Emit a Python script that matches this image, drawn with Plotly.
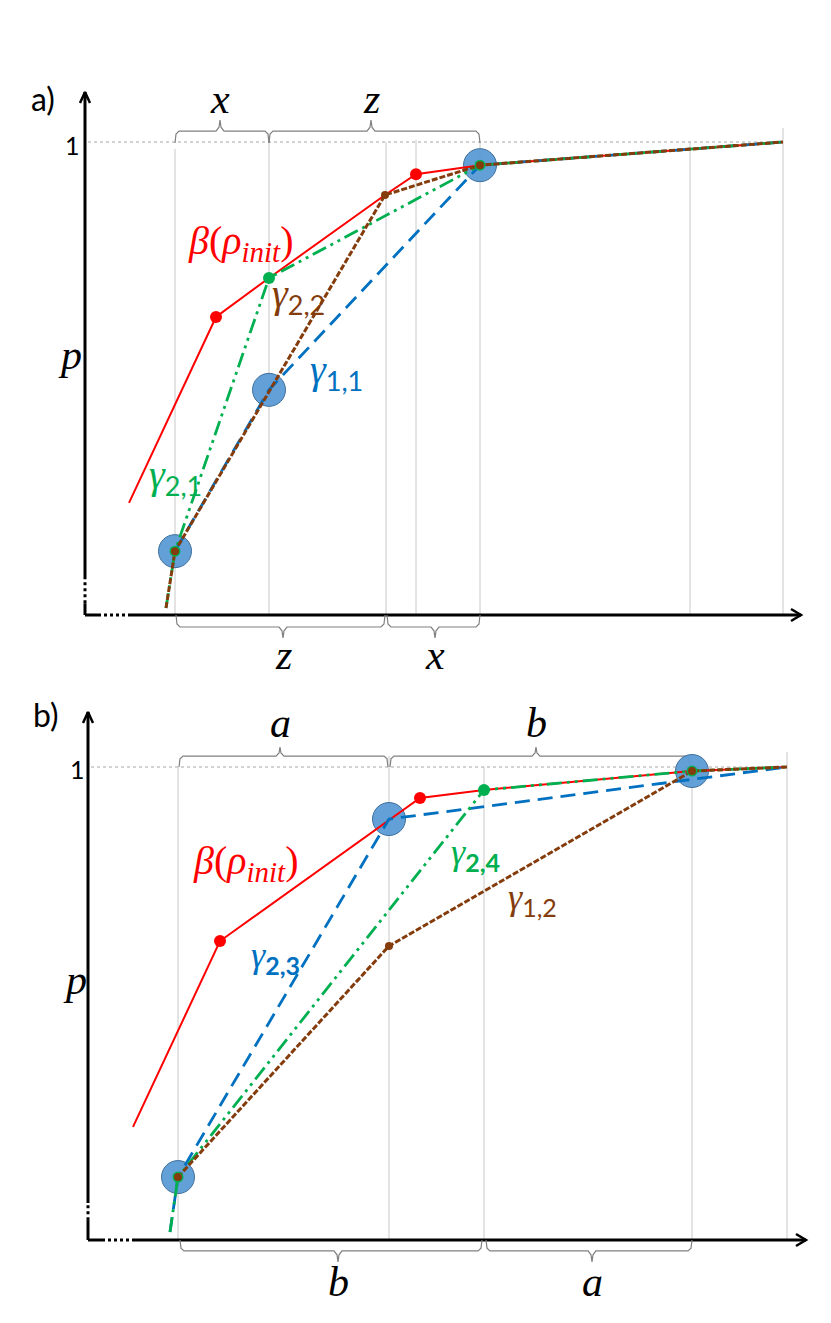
import plotly.graph_objects as go

# ---------------- common ----------------
K = 473.0  # pixels per unit of p (same in both panels)
RED, BLUE, GREEN, BROWN = "#ff0000", "#0070c0", "#00b050", "#843c0c"
CIRC_FILL, CIRC_LINE = "rgba(91,155,213,0.95)", "#41719c"
GRID = "#c8c8c8"

# ---------------- panel a data ----------------
a_grid_x = [175, 269, 386, 416, 480, 690, 783]
a_grid_top = [0.985, 1.005, 1.0, 1.005, 1.0, 1.0, 1.03]

a_beta_x = [129, 216, 269, 385, 416, 480, 783]
a_beta_p = [0.237, 0.630, 0.7125, 0.888, 0.932, 0.951, 1.0]

a_g11_x = [175, 269, 480, 783]
a_g11_p = [0.135, 0.476, 0.951, 1.0]

a_g21_x = [166, 175, 269, 480, 783]
a_g21_p = [0.015, 0.135, 0.7125, 0.951, 1.0]

a_g22_x = [166, 175, 385, 480, 783]
a_g22_p = [0.015, 0.135, 0.888, 0.951, 1.0]

a_big_x, a_big_p = [175, 269, 480], [0.135, 0.476, 0.951]
a_red_x, a_red_p = [216, 416], [0.630, 0.932]
a_green_x, a_green_p = [269], [0.7125]
a_ring_x, a_ring_p = [175, 480], [0.135, 0.951]
a_brown_x, a_brown_p = [175, 385, 480], [0.135, 0.888, 0.951]

a_top_braces = [(175, 269, 220, "x"), (269, 480, 371, "z")]
a_bot_braces = [(176, 385, 283, "z"), (387, 480, 435, "x")]

# ---------------- panel b data ----------------
b_grid_x = [178, 389, 484, 692, 787]
b_grid_top = [1.0, 1.023, 1.0, 1.023, 1.032]

b_beta_x = [133, 220, 420, 484, 692, 787]
b_beta_p = [0.239, 0.632, 0.9345, 0.9514, 0.9915, 1.0]

b_g23_x = [170, 178, 389, 787]
b_g23_p = [0.017, 0.133, 0.890, 1.0]

b_g24_x = [170, 178, 484, 692, 787]
b_g24_p = [0.017, 0.133, 0.9514, 0.9915, 1.0]

b_g12_x = [178, 389, 692, 787]
b_g12_p = [0.133, 0.6216, 0.9915, 1.0]

b_big_x, b_big_p = [178, 389, 692], [0.133, 0.890, 0.9915]
b_red_x, b_red_p = [220, 420], [0.632, 0.9345]
b_green_x, b_green_p = [484], [0.9514]
b_ring_x, b_ring_p = [178, 692], [0.133, 0.9915]
b_brown_x, b_brown_p = [178, 389, 692], [0.133, 0.6216, 0.9915]

b_top_braces = [(179, 388, 280, "a"), (390, 690, 536, "b")]
b_bot_braces = [(180, 482, 338, "b"), (486, 692, 592, "a")]

fig = go.Figure()

SERIF = "Liberation Serif"
SANS = "Lato"


def add_line(xs, ps, color, width, dash, ax):
    fig.add_trace(go.Scatter(x=xs, y=ps, mode="lines", xaxis=ax[0], yaxis=ax[1],
                             line=dict(color=color, width=width, dash=dash),
                             hoverinfo="skip", showlegend=False))


def add_markers(xs, ps, size, color, lcolor, lwidth, ax):
    fig.add_trace(go.Scatter(x=xs, y=ps, mode="markers", xaxis=ax[0], yaxis=ax[1],
                             marker=dict(size=size, color=color,
                                         line=dict(color=lcolor, width=lwidth)),
                             hoverinfo="skip", showlegend=False))


def add_text(x, p, text, size, color, ax, family=SERIF):
    fig.add_annotation(x=x, y=p, xref=ax[0], yref=ax[1], text=text, showarrow=False,
                       font=dict(family=family, size=size, color=color),
                       xanchor="center", yanchor="middle")


def gamma(sub, bold=False, subsize=27):
    s = "<span style='font-family:Lato;font-size:%dpx'>%s</span>" % (subsize, sub)
    if bold:
        s = "<b>" + s + "</b>"
    return "<i>γ</i><sub>" + s + "</sub>"


BETA = ("<i>β</i>(<i>ρ</i><sub><span style='font-size:29px'><i>init</i></span></sub>)")


def brace(x0, x1, xm, p_end, p_line, p_tip, ax):
    d = p_line - p_end
    t = p_tip - p_line
    xs = [x0, x0 + 1, x0 + 4, xm - 4, xm - 1, xm, xm + 1, xm + 4, x1 - 4, x1 - 1, x1]
    ps = [p_end, p_end + 0.75 * d, p_line, p_line, p_line + 0.35 * t, p_line + t,
          p_line + 0.35 * t, p_line, p_line, p_end + 0.75 * d, p_end]
    add_line(xs, ps, "#808080", 1.2, "solid", ax)


def axes(x0, x_end, p_top, dot_x, dot_p, ax):
    # y axis
    add_line([x0, x0], [0, dot_p[0]], "black", 3, "solid", ax)
    add_line([x0, x0], [dot_p[0], dot_p[1]], "black", 3, "3px,3px", ax)
    add_line([x0, x0], [dot_p[1], p_top], "black", 3, "solid", ax)
    # x axis
    add_line([x0, dot_x[0]], [0, 0], "black", 3, "solid", ax)
    add_line([dot_x[0], dot_x[1]], [0, 0], "black", 3, "3px,3px", ax)
    add_line([dot_x[1], x_end], [0, 0], "black", 3, "solid", ax)
    # arrow heads (open chevrons)
    add_line([x0 - 5, x0, x0 + 5], [p_top - 11 / K, p_top, p_top - 11 / K], "black", 2.5, "solid", ax)
    add_line([x_end - 10, x_end, x_end - 10], [6 / K, 0, -6 / K], "black", 2.5, "solid", ax)


def panel(ax, grid_x, grid_top, x0, x_end, p_top, dot_x, dot_p,
          beta, g_blue, g_green, g_brown, big, red, green, ring, brown,
          top_braces, bot_braces, top_lv, bot_lv):
    # gridlines
    for gx, gt in zip(grid_x, grid_top):
        add_line([gx, gx], [0, gt], GRID, 1, "solid", ax)
    add_line([x0 + 3, grid_x[-1]], [1, 1], "#a6a6a6", 1, "dot", ax)
    axes(x0, x_end, p_top, dot_x, dot_p, ax)
    # braces
    for (bx0, bx1, bm, lab) in top_braces:
        brace(bx0, bx1, bm, top_lv[0], top_lv[1], top_lv[2], ax)
        add_text(bm, top_lv[3], "<i>%s</i>" % lab, 42, "black", ax)
    for (bx0, bx1, bm, lab) in bot_braces:
        brace(bx0, bx1, bm, bot_lv[0], bot_lv[1], bot_lv[2], ax)
        add_text(bm, bot_lv[3], "<i>%s</i>" % lab, 42, "black", ax)
    # big circles (under the lines)
    add_markers(big[0], big[1], 33, CIRC_FILL, CIRC_LINE, 1, ax)
    # lines
    add_line(beta[0], beta[1], RED, 2, "solid", ax)
    add_line(g_blue[0], g_blue[1], BLUE, 2.8, "15px,8px", ax)
    add_line(g_green[0], g_green[1], GREEN, 2.8, "15px,5px,3px,5px,3px,5px", ax)
    add_line(g_brown[0], g_brown[1], BROWN, 3, "6px,2px", ax)
    # small dots
    add_markers(red[0], red[1], 12, RED, RED, 0, ax)
    add_markers(green[0], green[1], 12, GREEN, GREEN, 0, ax)
    add_markers(ring[0], ring[1], 11, GREEN, GREEN, 0, ax)
    add_markers(brown[0], brown[1], 8, BROWN, BROWN, 0, ax)


# ---------------- panel a ----------------
AX_A = ("x", "y")
panel(AX_A, a_grid_x, a_grid_top, 85, 801, 1.1057, (98, 129), (0.025, 0.078),
      (a_beta_x, a_beta_p), (a_g11_x, a_g11_p), (a_g21_x, a_g21_p), (a_g22_x, a_g22_p),
      (a_big_x, a_big_p), (a_red_x, a_red_p), (a_green_x, a_green_p),
      (a_ring_x, a_ring_p), (a_brown_x, a_brown_p),
      a_top_braces, a_bot_braces,
      (0.998, 1.023, 1.0465, 1.091), (0.0, -0.0254, -0.0486, -0.0846))

add_text(43, 1.091, "a)", 32, "black", AX_A, SANS)
add_text(72, 0.9937, "1", 25, "black", AX_A, SANS)
add_text(70, 0.5497, "<i>p</i>", 42, "black", AX_A)
add_text(240, 0.787, BETA, 40, RED, AX_A)
add_text(298, 0.674, gamma("2,2"), 40, BROWN, AX_A)
add_text(336, 0.514, gamma("1,1"), 40, BLUE, AX_A)
add_text(175, 0.292, gamma("2,1"), 40, GREEN, AX_A)

# ---------------- panel b ----------------
AX_B = ("x2", "y2")
panel(AX_B, b_grid_x, b_grid_top, 88, 806, 1.1163, (102, 134), (0.042, 0.078),
      (b_beta_x, b_beta_p), (b_g23_x, b_g23_p), (b_g24_x, b_g24_p), (b_g12_x, b_g12_p),
      (b_big_x, b_big_p), (b_red_x, b_red_p), (b_green_x, b_green_p),
      (b_ring_x, b_ring_p), (b_brown_x, b_brown_p),
      b_top_braces, b_bot_braces,
      (1.0, 1.023, 1.042, 1.093), (0.0, -0.023, -0.0465, -0.0888))

add_text(46, 1.110, "b)", 32, "black", AX_B, SANS)
add_text(77, 0.9958, "1", 25, "black", AX_B, SANS)
add_text(75, 0.55, "<i>p</i>", 42, "black", AX_B)
add_text(245, 0.797, BETA, 40, RED, AX_B)
add_text(275, 0.598, gamma("2,3", True, 25), 36, BLUE, AX_B)
add_text(475, 0.814, gamma("2,4", True, 25), 36, GREEN, AX_B)
add_text(532, 0.719, gamma("1,2", False, 25), 36, BROWN, AX_B)

# ---------------- layout ----------------
split = 0.5
hidden = dict(visible=False, showgrid=False, zeroline=False, fixedrange=True)
fig.update_layout(
    width=831, height=1323,
    margin=dict(l=0, r=0, t=0, b=0),
    paper_bgcolor="white", plot_bgcolor="white",
    showlegend=False,
    xaxis=dict(range=[0, 831], domain=[0, 1], anchor="y", **hidden),
    yaxis=dict(range=[(615 - 661.5) / K, 615 / K], domain=[split, 1], anchor="x", **hidden),
    xaxis2=dict(range=[0, 831], domain=[0, 1], anchor="y2", **hidden),
    yaxis2=dict(range=[(1240 - 1323) / K, (1240 - 661.5) / K], domain=[0, split], anchor="x2", **hidden),
)

fig.write_html("out.html", config={"displayModeBar": False},
               post_script="document.body.style.margin='0';document.body.style.overflow='hidden';")
